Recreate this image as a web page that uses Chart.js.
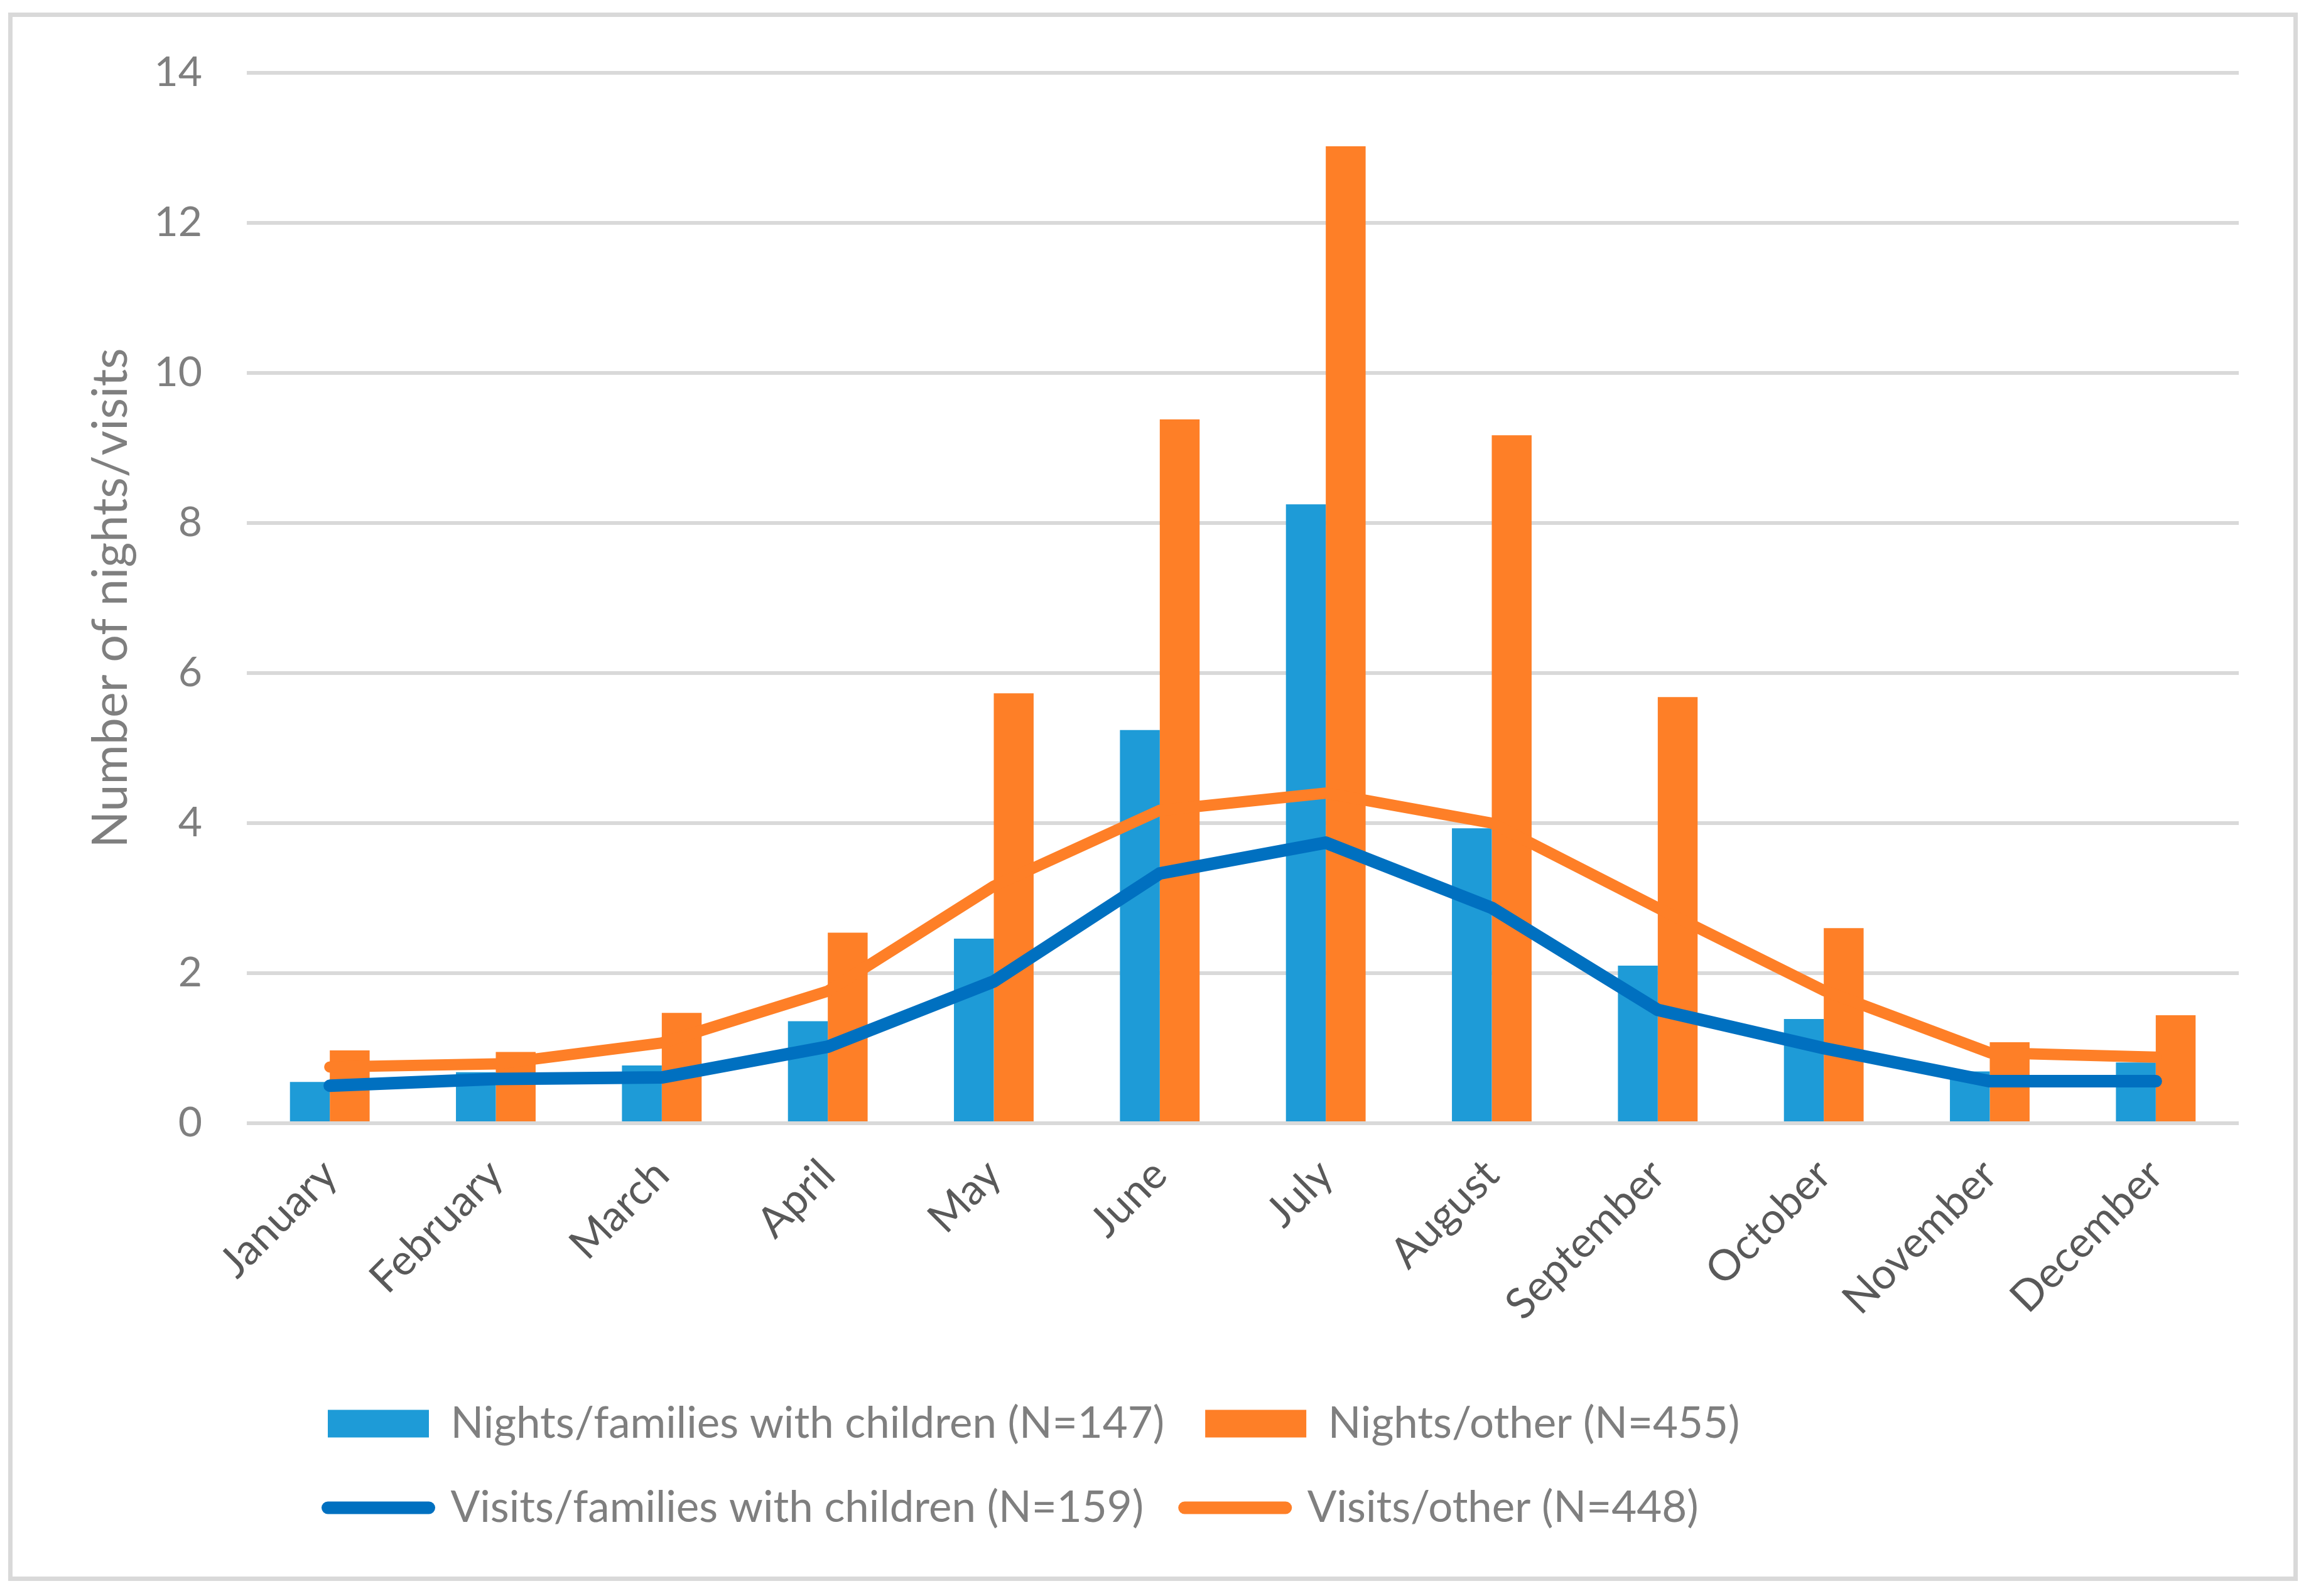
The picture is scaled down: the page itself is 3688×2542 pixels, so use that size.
<!DOCTYPE html>
<html>
<head>
<meta charset="utf-8">
<script src="https://cdn.jsdelivr.net/npm/chart.js@4.4.1/dist/chart.umd.min.js"></script>
<style>
  html, body { margin: 0; padding: 0; background: #ffffff; }
  #box {
    position: absolute; left: 13px; top: 20px;
    width: 3646px; height: 2498px;
    border: 7px solid #d9d9d9; box-sizing: border-box; background: #fff;
  }
  #c { display: block; }
</style>
</head>
<body>
<div id="box"><canvas id="c"></canvas></div>
<script>
// ---------- data ----------
const categories = ['January', 'February', 'March', 'April', 'May', 'June',
  'July', 'August', 'September', 'October', 'November', 'December'];
const nightsFamilies = [0.55, 0.68, 0.77, 1.36, 2.46, 5.24, 8.25, 3.93, 2.10, 1.39, 0.69, 0.81];
const nightsOther    = [0.97, 0.95, 1.47, 2.54, 5.73, 9.38, 13.02, 9.17, 5.68, 2.60, 1.08, 1.44];
const visitsFamilies = [0.50, 0.59, 0.61, 1.02, 1.89, 3.33, 3.74, 2.87, 1.51, 1.00, 0.56, 0.56];
const visitsOther    = [0.75, 0.79, 1.07, 1.76, 3.16, 4.17, 4.40, 4.00, 2.87, 1.77, 0.94, 0.88];
const seriesLabels = [
  'Nights/families with children (N=147)',
  'Nights/other (N=455)',
  'Visits/families with children (N=159)',
  'Visits/other (N=448)'
];
const yTitle = 'Number of nights/visits';
const yMin = 0, yMax = 14, yStep = 2;

// ---------- style ----------
const FONT = 'Lato, "Open Sans", sans-serif';
const BLUE_BAR = '#1e9bd7';
const ORANGE = '#fe7f27';
const BLUE_LINE = '#0070c0';

const legendShift = {
  id: 'legendShift',
  afterLayout(chart) {
    const l = chart.legend;
    if (l) { l.left += 64; l.right += 64; }
  }
};

const ctx = document.getElementById('c');
ctx.width = 3632; ctx.height = 2484;

new Chart(ctx, {
  data: {
    labels: categories,
    datasets: [
      { type: 'bar', label: seriesLabels[0], data: nightsFamilies, backgroundColor: BLUE_BAR,
        order: 2, barPercentage: 1.0, categoryPercentage: 0.48 },
      { type: 'bar', label: seriesLabels[1], data: nightsOther, backgroundColor: ORANGE,
        order: 2, barPercentage: 1.0, categoryPercentage: 0.48 },
      { type: 'line', label: seriesLabels[2], data: visitsFamilies, borderColor: BLUE_LINE,
        backgroundColor: BLUE_LINE, borderWidth: 20, pointRadius: 0, tension: 0,
        borderCapStyle: 'round', borderJoinStyle: 'round', order: 0 },
      { type: 'line', label: seriesLabels[3], data: visitsOther, borderColor: ORANGE,
        backgroundColor: ORANGE, borderWidth: 18, pointRadius: 0, tension: 0,
        borderCapStyle: 'round', borderJoinStyle: 'round', order: 1 }
    ]
  },
  options: {
    responsive: false,
    animation: false,
    devicePixelRatio: 1,
    layout: { padding: { left: 100, right: 87, top: 89, bottom: 65 } },
    plugins: {
      tooltip: { enabled: false },
      legend: {
        position: 'bottom',
        align: 'start',
        fullSize: false,
        labels: {
          usePointStyle: true,
          pointStyleWidth: 161,
          boxHeight: 44,
          padding: 65,
          color: '#7f7f7f',
          font: { family: FONT, size: 69 },
          generateLabels(chart) {
            return chart.data.datasets.map((ds, i) => {
              const isLine = ds.type === 'line';
              return {
                text: ds.label,
                datasetIndex: i,
                fillStyle: isLine ? ds.borderColor : ds.backgroundColor,
                strokeStyle: isLine ? ds.borderColor : ds.backgroundColor,
                lineWidth: isLine ? 20 : 0,
                lineCap: 'round',
                pointStyle: isLine ? 'line' : 'rect',
                fontColor: '#7f7f7f',
                hidden: false
              };
            });
          }
        }
      }
    },
    scales: {
      x: {
        grid: { display: false, drawTicks: false },
        border: { display: false },
        ticks: {
          color: '#595959',
          font: { family: FONT, size: 68 },
          minRotation: 45, maxRotation: 45,
          padding: 42
        },
        afterFit(scale) { scale.height = 379; }
      },
      y: {
        min: yMin, max: yMax,
        grid: { color: '#d9d9d9', lineWidth: 6, drawTicks: true, tickLength: 61, tickColor: 'rgba(0,0,0,0)' },
        border: { display: false },
        ticks: {
          stepSize: yStep,
          color: '#7f7f7f',
          font: { family: FONT, size: 66 },
          padding: 10
        },
        title: {
          display: true,
          text: yTitle,
          color: '#7f7f7f',
          font: { family: FONT, size: 77 },
          padding: { top: 11, bottom: 0 }
        },
        afterFit(scale) { scale.width = 273; }
      }
    }
  },
  plugins: [legendShift]
});
</script>
</body>
</html>
